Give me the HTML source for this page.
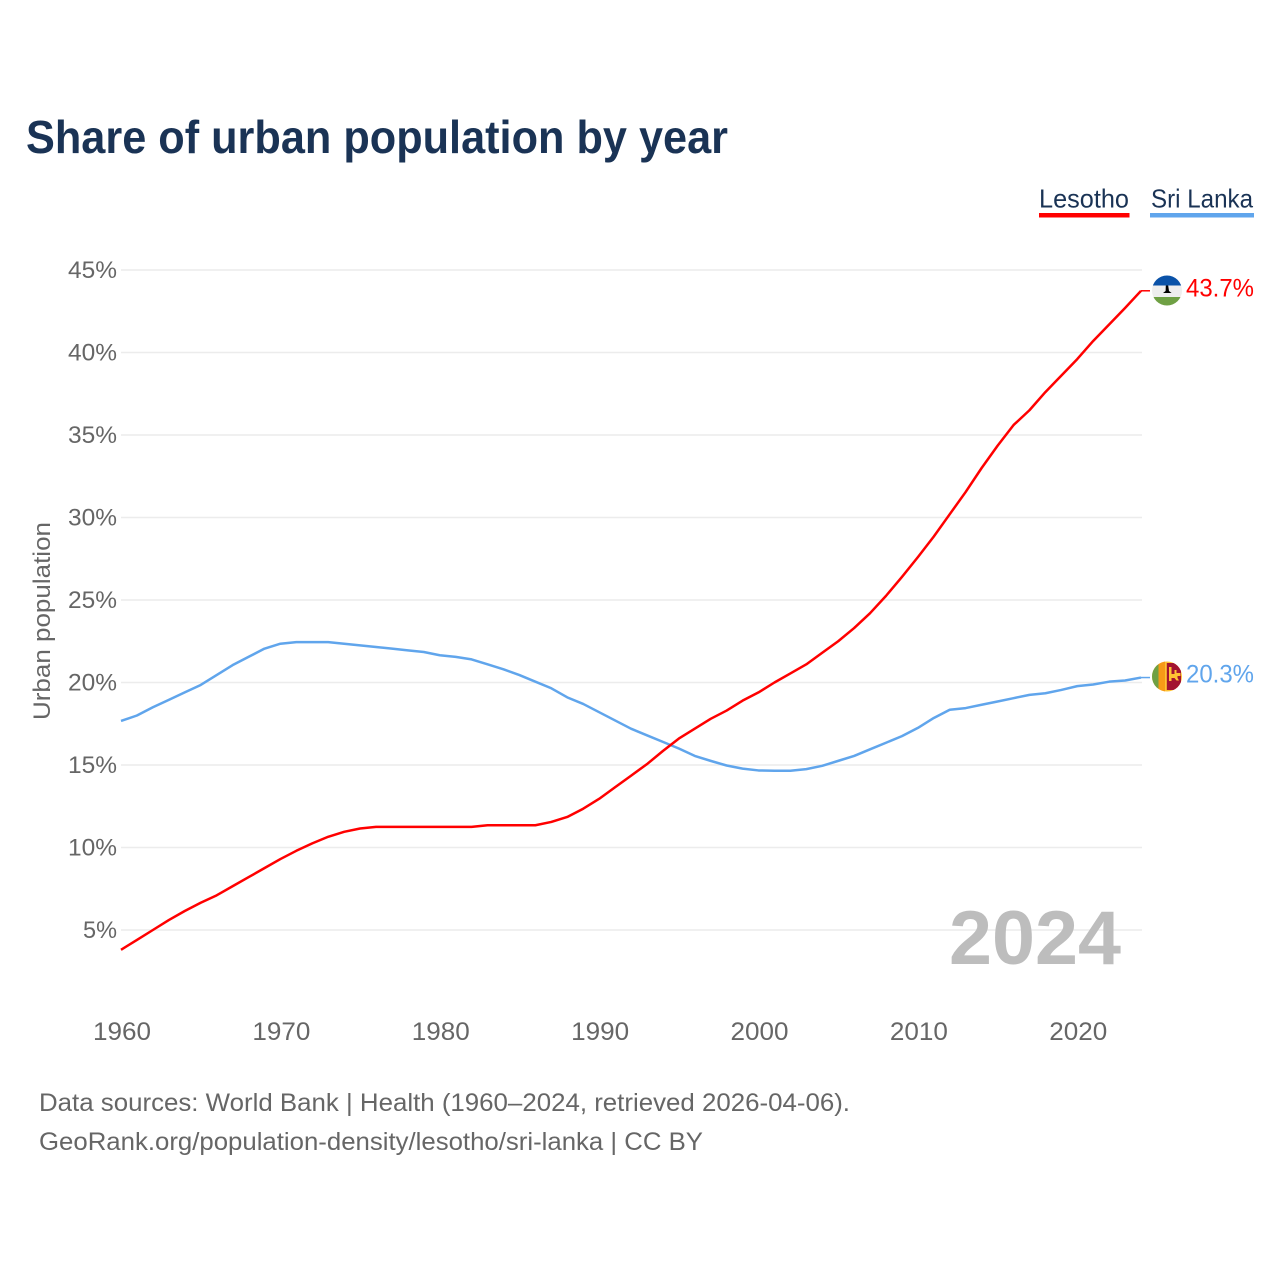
<!DOCTYPE html>
<html lang="en">
<head>
<meta charset="utf-8">
<title>Share of urban population by year</title>
<style>
html,body{margin:0;padding:0;background:#fff;width:1280px;height:1280px;overflow:hidden}
svg{display:block;font-family:"Liberation Sans",sans-serif}
</style>
</head>
<body>
<svg id="chart" width="1280" height="1280" viewBox="0 0 1280 1280" xmlns="http://www.w3.org/2000/svg">
<rect x="0" y="0" width="1280" height="1280" fill="#fff"/>
<text x="26" y="153" font-size="46" font-weight="700" fill="#1a3355" textLength="702" lengthAdjust="spacingAndGlyphs">Share of urban population by year</text>
<g id="grid"></g>
<g id="yticks"></g>
<g id="xticks"></g>
<text transform="translate(50,621) rotate(-90)" text-anchor="middle" font-size="24" fill="#666" textLength="198" lengthAdjust="spacingAndGlyphs">Urban population</text>
<text x="949" y="964" font-size="76" font-weight="700" fill="#bdbdbd" textLength="172" lengthAdjust="spacingAndGlyphs">2024</text>
<g id="series"></g>
<g>
<text x="1039" y="207.500" font-size="26" fill="#1a3355" textLength="90" lengthAdjust="spacingAndGlyphs">Lesotho</text>
<rect x="1039" y="213" width="90.500" height="4.500" fill="#ff0000"/>
</g>
<g>
<text x="1151" y="207.500" font-size="26" fill="#1a3355" textLength="102" lengthAdjust="spacingAndGlyphs">Sri Lanka</text>
<rect x="1150" y="213" width="104" height="4.500" fill="#60a5ec"/>
</g>
<defs>
<clipPath id="clip-ls"><circle cx="1167" cy="290.500" r="15"/></clipPath>
<clipPath id="clip-lk"><circle cx="1167" cy="676.500" r="15"/></clipPath>
</defs>
<g clip-path="url(#clip-ls)">
<rect x="1150" y="274" width="34" height="11.500" fill="#0a52a8"/>
<rect x="1150" y="285.500" width="34" height="11.500" fill="#eeeeee"/>
<rect x="1150" y="297" width="34" height="10" fill="#6fa044"/>
<path d="M1165.800 285.500h2.400l.8 5.500 2.600 2h-8.600l2.600-2z" fill="#000"/>
</g>
<g clip-path="url(#clip-lk)">
<rect x="1150" y="660" width="34" height="33" fill="#ffc233"/>
<rect x="1150" y="660" width="8.500" height="33" fill="#6fa044"/>
<rect x="1158.500" y="660" width="6.500" height="33" fill="#f79a17"/>
<rect x="1166.800" y="663" width="14.200" height="27" fill="#a31330"/>
<path d="M1169 667h2.500v7h3v-4h2v3h4v3h-3v2l1.500 2.500h-2.500l-2-2.500h-3v3h-2.500z" fill="#ffc233"/>
</g>
<text x="1186" y="296.500" font-size="25" fill="#ff0000" textLength="68" lengthAdjust="spacingAndGlyphs">43.7%</text>
<text x="1186" y="682.500" font-size="25" fill="#60a5ec" textLength="68" lengthAdjust="spacingAndGlyphs">20.3%</text>
<text x="39" y="1111" font-size="25" fill="#666" textLength="811" lengthAdjust="spacingAndGlyphs">Data sources: World Bank | Health (1960–2024, retrieved 2026-04-06).</text>
<text x="39" y="1150" font-size="25" fill="#666" textLength="664" lengthAdjust="spacingAndGlyphs">GeoRank.org/population-density/lesotho/sri-lanka | CC BY</text>
</svg>
<script>
const years = [1960,1961,1962,1963,1964,1965,1966,1967,1968,1969,1970,1971,1972,1973,1974,1975,1976,1977,1978,1979,1980,1981,1982,1983,1984,1985,1986,1987,1988,1989,1990,1991,1992,1993,1994,1995,1996,1997,1998,1999,2000,2001,2002,2003,2004,2005,2006,2007,2008,2009,2010,2011,2012,2013,2014,2015,2016,2017,2018,2019,2020,2021,2022,2023,2024];
const lesotho = [3.8,4.4,5.0,5.6,6.15,6.65,7.1,7.65,8.2,8.75,9.3,9.8,10.25,10.65,10.95,11.15,11.25,11.25,11.25,11.25,11.25,11.25,11.25,11.35,11.35,11.35,11.35,11.55,11.85,12.35,12.95,13.65,14.35,15.05,15.85,16.6,17.2,17.8,18.3,18.9,19.4,20.0,20.55,21.1,21.8,22.5,23.3,24.2,25.25,26.4,27.6,28.85,30.2,31.55,33.0,34.35,35.6,36.5,37.6,38.6,39.6,40.7,41.7,42.7,43.74];
const sriLanka = [17.67,18.0,18.5,18.95,19.4,19.85,20.45,21.05,21.55,22.05,22.35,22.45,22.45,22.45,22.35,22.25,22.15,22.05,21.95,21.85,21.65,21.55,21.4,21.1,20.8,20.45,20.05,19.65,19.1,18.7,18.2,17.7,17.2,16.8,16.4,16.0,15.55,15.25,14.97,14.78,14.67,14.65,14.65,14.75,14.95,15.25,15.55,15.95,16.35,16.75,17.25,17.85,18.35,18.45,18.65,18.85,19.05,19.25,19.35,19.55,19.78,19.88,20.05,20.12,20.3];
const yTickValues = [5,10,15,20,25,30,35,40,45];
const yTickLabels = ["5%","10%","15%","20%","25%","30%","35%","40%","45%"];
const xTickValues = [1960,1970,1980,1990,2000,2010,2020];
const xTickLabels = ["1960","1970","1980","1990","2000","2010","2020"];

const NS = "http://www.w3.org/2000/svg";
function xScale(year){ return 121 + (year - 1960) * (1141 - 121) / 64; }
function yScale(v){ return 930 - (v - 5) * (930 - 270) / 40; }
function make(tag, attrs, parent){
  const el = document.createElementNS(NS, tag);
  for (const k in attrs) el.setAttribute(k, attrs[k]);
  parent.appendChild(el);
  return el;
}
const gridG = document.getElementById("grid");
const yG = document.getElementById("yticks");
const xG = document.getElementById("xticks");
const seriesG = document.getElementById("series");

yTickValues.forEach(function(v, i){
  const line = make("line", {x1:121, x2:1142, y1:yScale(v), y2:yScale(v), stroke:"#ececec", "stroke-width":1.4}, gridG);
  
  
  const label = yTickLabels[i];
  const t = make("text", {x:117, y:yScale(v) + 8, "text-anchor":"end", "font-size":24, fill:"#666", textLength: label.length === 2 ? 34 : 49, lengthAdjust:"spacingAndGlyphs"}, yG);
  
  
  t.textContent = label;
});
xTickValues.forEach(function(v, i){
  const t = make("text", {x:xScale(v) + 1, y:1040, "text-anchor":"middle", "font-size":25, fill:"#666", textLength:58, lengthAdjust:"spacingAndGlyphs"}, xG);
  
  
  t.textContent = xTickLabels[i];
});
function pathFor(values){
  return values.map(function(v, i){
    return (i ? "L" : "M") + xScale(years[i]).toFixed(2) + " " + yScale(v).toFixed(2);
  }).join("");
}
function drawTail(values, color){
  const last = values[values.length - 1];
  const y = yScale(last);
  const tail = make("line", {x1:xScale(years[years.length - 1]), x2:1150, y1:y, y2:y, stroke:color, "stroke-width":1.5}, seriesG);
  return tail;
}
const tailLk = drawTail(sriLanka, "#60a5ec");


const tailLs = drawTail(lesotho, "#ff0000");


const lineLk = make("path", {d:pathFor(sriLanka), fill:"none", stroke:"#60a5ec", "stroke-width":2.5, "stroke-linejoin":"round"}, seriesG);


const lineLs = make("path", {d:pathFor(lesotho), fill:"none", stroke:"#ff0000", "stroke-width":2.5, "stroke-linejoin":"round"}, seriesG);


</script>
</body>
</html>
